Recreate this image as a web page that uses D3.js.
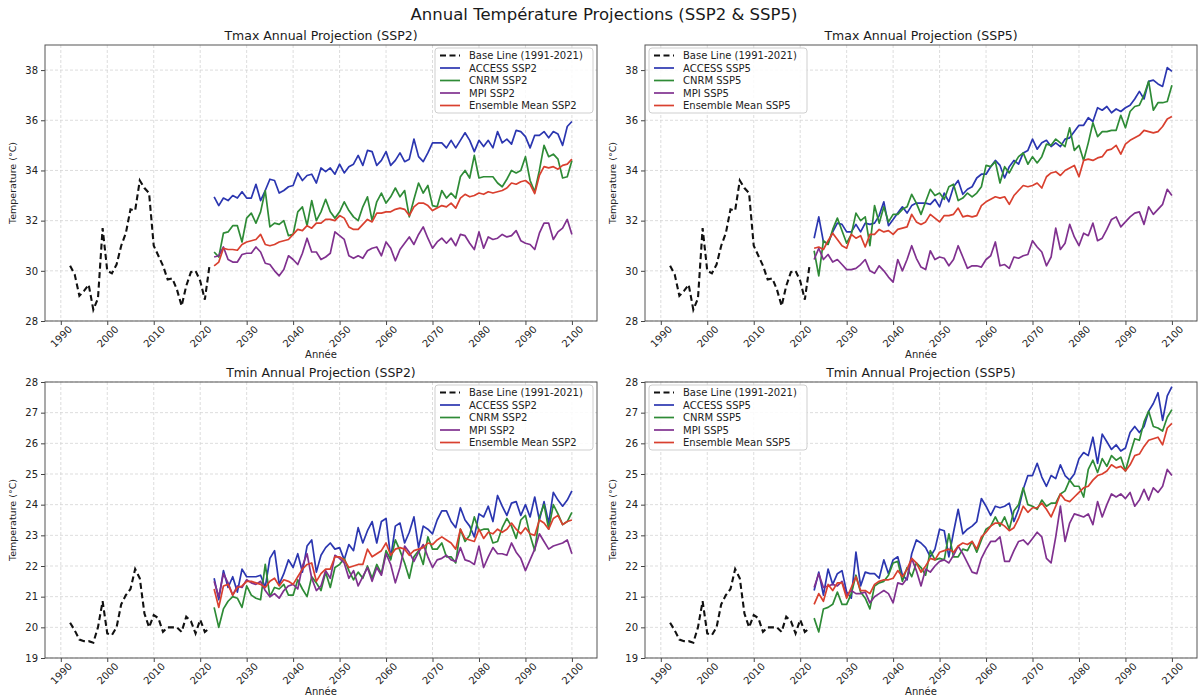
<!DOCTYPE html>
<html>
<head>
<meta charset="utf-8">
<script src="https://cdn.jsdelivr.net/npm/d3@7"></script>
<style>
  html, body { margin: 0; padding: 0; background: #fff; }
  svg { display: block; font-family: "DejaVu Sans", sans-serif; }
</style>
</head>
<body>
<svg id="chart" width="1198" height="698"></svg>
<script>
// ---- Years ----
const baseYears = d3.range(1992, 2023);   // observed baseline period
const projYears = d3.range(2023, 2101);   // projection period

// ---- Observed baseline (°C) ----
const tmaxBaseline = [
  30.2, 29.85, 29.0, 29.2, 29.45, 28.45, 28.9, 31.7, 30.0, 29.9,
  30.25, 31.0, 31.5, 32.45, 32.4, 33.6, 33.3, 33.1, 31.0, 30.6,
  30.2, 29.65, 29.7, 29.25, 28.6, 29.4, 29.95, 30.0, 29.6, 28.85, 30.2
];
const tminBaseline = [
  20.15, 19.9, 19.6, 19.55, 19.55, 19.5, 20.0, 20.85, 19.8, 19.75,
  20.0, 20.75, 21.05, 21.25, 21.9, 21.6, 20.45, 20.0, 20.4, 20.3,
  19.85, 20.0, 20.0, 20.0, 19.85, 20.35, 20.2, 19.8, 20.25, 19.85, 19.97
];

// ---- Tmax, SSP2 ----
const tmaxAccessSsp2 = [
  32.95, 32.6, 32.9, 32.8, 33.0, 32.9, 33.15, 32.9, 32.9, 33.45,
  32.8, 33.2, 33.65, 33.6, 33.1, 33.2, 33.35, 33.4, 33.9, 33.6,
  33.8, 33.85, 33.5, 34.1, 33.95, 34.1, 33.85, 34.25, 33.9, 34.15,
  34.25, 34.6, 34.2, 34.8, 34.75, 34.2, 34.4, 34.75, 34.2, 34.4,
  34.7, 34.35, 34.45, 35.25, 34.55, 34.35, 34.7, 35.1, 35.1, 35.1,
  34.9, 35.2, 34.9, 35.2, 35.5, 35.2, 34.75, 35.2, 34.95, 35.2,
  34.9, 35.55, 35.1, 35.25, 35.05, 35.6, 35.55, 35.35, 34.9, 35.4,
  35.4, 35.55, 35.3, 35.55, 35.45, 35.0, 35.75, 35.95
];
const tmaxCnrmSsp2 = [
  30.75, 30.55, 31.5, 31.55, 31.8, 31.8, 31.15, 32.1, 32.3, 31.9,
  32.35, 33.2, 31.75, 31.9, 31.85, 32.0, 31.4, 31.45, 32.35, 32.55,
  31.8, 32.8, 32.0, 32.35, 32.85, 32.35, 32.1, 32.35, 32.75, 32.4,
  32.15, 32.0, 32.55, 32.95, 32.0, 32.75, 33.1, 32.7, 32.95, 33.3,
  32.95, 33.2, 32.15, 32.85, 33.5, 33.1, 33.4, 32.6, 32.55, 33.2,
  32.9, 33.1, 32.9, 33.75, 34.0, 33.7, 34.6, 33.7, 33.75, 33.75,
  33.75, 33.5, 33.35, 33.65, 34.0, 33.9, 34.0, 34.55, 33.6, 33.15,
  34.0, 35.0, 34.55, 34.65, 34.45, 33.7, 33.75, 34.4
];
const tmaxMpiSsp2 = [
  30.55, 30.6, 30.95, 30.45, 30.35, 30.35, 30.65, 30.7, 30.7, 30.95,
  30.75, 30.3, 30.25, 30.0, 29.8, 30.05, 30.6, 30.45, 30.25, 30.7,
  31.3, 30.75, 30.75, 30.45, 30.55, 30.7, 31.55, 31.4, 31.25, 30.6,
  30.5, 30.6, 30.5, 30.8, 30.9, 30.95, 30.6, 31.15, 30.9, 30.4,
  30.85, 31.1, 31.35, 31.05, 31.45, 31.75, 31.3, 30.9, 31.15, 31.3,
  31.1, 31.3, 31.0, 31.45, 31.4, 31.1, 30.85, 31.55, 30.9, 31.35,
  31.25, 31.3, 31.45, 31.35, 31.4, 31.6, 31.2, 31.1, 31.05, 30.85,
  31.5, 31.9, 31.9, 31.25, 31.55, 31.7, 32.05, 31.45
];
const tmaxMeanSsp2 = [
  30.2, 30.35, 30.9, 30.85, 30.85, 30.82, 31.05, 31.15, 31.2, 31.25,
  31.45, 31.05, 31.0, 31.05, 31.15, 31.2, 31.25, 31.45, 31.65, 31.6,
  31.8, 31.7, 31.9, 31.9, 32.05, 32.05, 32.0, 32.2, 32.1, 31.75,
  31.65, 31.65, 31.85, 32.05, 31.95, 32.3, 32.3, 32.35, 32.35, 32.45,
  32.5, 32.45, 32.2, 32.55, 32.7, 32.7, 32.6, 32.4, 32.5, 32.6,
  32.55, 32.7, 32.5, 32.9, 33.05, 32.95, 33.0, 33.1, 33.05, 33.15,
  33.1, 33.15, 33.2, 33.3, 33.5, 33.45, 33.55, 33.6, 33.45, 33.08,
  33.8, 34.15, 34.1, 34.15, 34.05, 34.2, 34.25, 34.45
];

// ---- Tmax, SSP5 ----
const tmaxAccessSsp5 = [
  31.3, 32.15, 31.15, 31.1, 31.55, 31.9, 31.85, 31.55, 31.55, 31.85,
  31.55, 31.9, 31.85, 31.9, 32.2, 32.75, 31.8, 32.05, 32.3, 32.55,
  32.3, 32.6, 32.7, 32.7, 32.7, 32.65, 32.85, 32.55, 33.1, 32.75,
  33.35, 33.6, 33.05, 33.25, 33.35, 33.7, 33.85, 33.85, 34.15, 34.4,
  34.2, 33.7, 34.15, 34.4, 34.25, 34.7, 34.8, 35.25, 34.85, 35.1,
  35.2, 34.95, 35.1, 34.95, 35.25, 35.3, 35.55, 35.8, 35.8, 36.1,
  35.95, 36.5, 36.4, 36.55, 36.3, 36.45, 36.35, 36.5, 36.6, 36.85,
  37.15, 36.85, 37.55, 37.6, 37.45, 37.35, 38.1, 37.95
];
const tmaxCnrmSsp5 = [
  30.8, 29.8, 31.2, 31.05, 31.65, 32.1, 31.6, 31.1, 31.45, 32.3,
  32.0, 32.15, 31.0, 32.6, 31.9, 32.55, 31.95, 32.25, 32.25, 32.45,
  32.55, 33.05, 32.7, 32.25, 32.75, 33.25, 33.0, 33.1, 32.85, 33.35,
  33.45, 32.8, 32.9, 33.1, 32.95, 33.1, 33.35, 34.2, 34.15, 34.35,
  33.5, 34.15, 33.9, 34.25, 34.55, 34.7, 34.25, 34.55, 34.3, 34.55,
  35.05, 35.0, 35.25, 35.1, 34.95, 35.7, 34.8, 35.0, 34.4, 35.1,
  35.9, 35.35, 35.55, 35.55, 35.6, 35.6, 36.2, 35.7, 36.35, 36.55,
  36.6, 37.0, 37.55, 36.4, 36.7, 36.7, 36.75, 37.4
];
const tmaxMpiSsp5 = [
  30.45, 30.9, 30.45, 30.65, 30.35, 30.45, 30.25, 30.05, 30.05, 30.1,
  30.25, 30.45, 30.0, 29.9, 30.2, 30.0, 29.75, 29.55, 30.45, 30.0,
  30.45, 31.0, 30.5, 30.15, 30.05, 30.8, 30.45, 30.55, 30.5, 30.2,
  30.45, 31.0, 30.55, 30.1, 30.2, 30.2, 30.15, 30.45, 30.6, 31.15,
  30.2, 30.25, 30.1, 30.55, 30.5, 30.6, 30.65, 31.2, 30.95, 30.75,
  30.2, 30.55, 31.7, 30.85, 31.1, 31.85, 31.35, 31.0, 31.5, 31.4,
  31.9, 31.2, 31.3, 31.65, 32.05, 32.15, 31.75, 31.95, 32.15, 32.3,
  32.35, 31.85, 32.55, 32.25, 32.45, 32.65, 33.25, 33.0
];
const tmaxMeanSsp5 = [
  30.9, 30.95, 30.85, 31.2, 31.5, 31.25, 31.0, 30.9, 31.45, 31.3,
  31.4, 30.95, 31.45, 31.45, 31.65, 31.55, 31.6, 31.45, 31.65, 31.7,
  31.75, 32.25, 31.95, 31.85, 31.95, 32.25, 32.1, 31.95, 32.2, 32.2,
  32.25, 32.5, 32.15, 32.2, 32.15, 32.2, 32.6, 32.75, 32.85, 32.95,
  32.9, 32.95, 32.65, 33.0, 33.2, 33.4, 33.35, 33.4, 33.5, 33.3,
  33.75, 33.9, 33.95, 33.8, 34.0, 34.1, 34.2, 33.75, 34.4, 34.45,
  34.4, 34.5, 34.55, 34.8, 34.85, 35.0, 34.65, 35.05, 35.2, 35.3,
  35.4, 35.6, 35.55, 35.5, 35.55, 35.75, 36.05, 36.15
];

// ---- Tmin, SSP2 ----
const tminAccessSsp2 = [
  21.6, 20.9, 21.85, 21.3, 21.65, 21.15, 21.9, 21.65, 21.65, 21.65,
  21.7, 21.3, 22.25, 22.5, 21.4, 21.75, 22.2, 21.95, 22.4, 21.8,
  22.65, 22.85, 21.8, 22.35, 22.6, 22.75, 22.55, 22.6, 22.2, 22.7,
  22.5, 23.25, 22.75, 23.15, 23.45, 22.75, 23.45, 23.55, 22.25, 23.3,
  23.4, 22.75, 23.1, 23.6, 22.6, 23.3, 23.2, 23.05, 23.5, 23.8,
  23.8, 23.45, 23.25, 23.9, 23.5, 23.3, 22.95, 23.7, 23.6, 23.95,
  23.45, 24.3, 23.95, 23.65, 24.05, 24.1, 23.65, 24.0, 23.6, 24.25,
  23.5, 24.1, 23.4, 24.4, 24.15, 23.95, 24.15, 24.45
];
const tminCnrmSsp2 = [
  20.65, 20.0, 20.6, 20.85, 21.0, 20.95, 20.65, 21.35, 21.05, 20.95,
  20.9, 22.05, 21.0, 21.3, 21.25, 21.4, 21.05, 21.05, 21.55, 21.25,
  21.0, 21.65, 21.45, 21.2, 21.8, 21.3, 21.95, 22.05, 22.25, 21.85,
  21.55, 21.8, 21.6, 22.0, 21.6, 22.05, 21.75, 22.5, 22.2, 22.85,
  22.5, 22.1, 21.6, 22.3, 22.5, 22.05, 22.95, 22.55, 22.55, 22.75,
  22.3, 22.3, 22.1, 23.2, 22.8, 23.0, 23.6, 23.15, 23.2, 23.2,
  22.75, 22.8, 23.25, 23.55, 23.3, 22.9, 23.5, 23.65, 23.0, 22.5,
  23.6, 24.0, 23.2, 24.0, 23.7, 23.35, 23.45, 23.75
];
const tminMpiSsp2 = [
  21.5, 21.0, 21.75, 21.45, 21.05, 21.35, 21.3, 21.55, 21.45, 21.4,
  21.5, 21.2, 21.0, 21.1, 20.95, 21.2, 21.35, 21.4, 21.25, 22.0,
  22.4, 21.6, 21.2, 21.35, 21.85, 21.6, 22.35, 22.25, 22.1, 21.6,
  21.85, 21.35, 21.65, 21.95, 21.5, 21.95, 21.7, 22.4, 22.05, 21.45,
  21.95, 22.65, 22.45, 22.15, 22.45, 22.7, 22.3, 21.95, 22.2, 22.25,
  22.35, 22.2, 22.15, 22.6, 22.2, 22.15, 22.05, 22.65, 21.95, 22.3,
  22.6, 22.4, 22.4, 22.35, 22.75, 22.45, 22.25, 21.85, 22.2, 22.55,
  23.05, 22.8, 22.55, 22.65, 22.7, 22.75, 22.85, 22.4
];
const tminMeanSsp2 = [
  21.25, 20.65, 21.35, 21.4, 21.05, 21.3, 21.35, 21.5, 21.5, 21.45,
  21.4, 21.3, 21.5, 21.6, 21.35, 21.55, 21.5, 21.4, 21.65, 21.9,
  22.05, 22.1, 21.5, 21.75, 21.9, 21.9, 22.3, 22.3, 22.2, 21.95,
  22.0, 22.05, 22.05, 22.55, 22.3, 22.4, 22.5, 22.75, 22.35, 22.55,
  22.6, 22.55, 22.35, 22.5, 22.55, 22.6, 22.75, 22.7, 22.85, 22.95,
  22.85, 22.75, 22.55, 23.2, 22.9, 22.85, 22.8, 23.2, 22.9, 23.1,
  23.05, 23.2, 23.1, 23.2, 23.4, 23.2, 23.05, 23.25, 23.05, 23.0,
  23.5, 23.4, 23.2, 23.55, 23.65, 23.35, 23.45, 23.5
];

// ---- Tmin, SSP5 ----
const tminAccessSsp5 = [
  21.2, 21.8, 21.05, 21.9, 21.4, 21.75, 21.85, 21.15, 20.95, 22.45,
  21.35, 21.8, 21.75, 21.75, 21.6, 22.2, 21.75, 22.2, 22.3, 21.7,
  21.55, 22.4, 22.85, 22.75, 22.6, 22.3, 22.55, 23.2, 23.15, 22.3,
  23.1, 23.85, 23.05, 23.2, 23.3, 23.45, 24.2, 23.95, 23.65, 23.95,
  23.9, 23.95, 24.05, 23.45, 23.85, 24.5, 24.95, 24.95, 25.35, 24.9,
  24.6, 24.95, 24.85, 25.3, 24.95, 24.8, 25.0, 25.5, 25.7, 25.6,
  26.2, 25.35, 26.3, 26.05, 25.8, 25.95, 25.75, 25.85, 26.35, 26.55,
  26.35, 26.55, 27.05, 27.3, 27.65, 26.75, 27.55, 27.85
];
const tminCnrmSsp5 = [
  20.3, 19.85, 20.6, 20.65, 20.75, 21.15, 20.75, 20.75, 21.1, 21.7,
  21.15, 20.95, 20.6, 21.35, 21.45, 21.5, 21.7, 22.1, 22.15, 21.5,
  21.95, 21.65, 22.1, 21.95, 21.7, 22.5, 22.2, 22.25, 22.2, 23.05,
  22.3, 22.3, 22.55, 22.5, 22.8, 22.45, 22.85, 23.2, 23.3, 23.6,
  23.3, 23.6, 23.2, 23.8, 24.0, 24.55, 24.0, 23.95, 23.85, 24.15,
  23.95, 24.05, 24.05, 24.35, 24.45, 24.8, 24.6, 24.6, 24.25, 25.15,
  25.45, 25.05, 25.5, 25.25, 25.6, 25.45, 25.55, 25.1, 25.65, 26.15,
  26.1, 26.7, 27.05, 26.55, 26.5, 26.4, 26.85, 27.1
];
const tminMpiSsp5 = [
  21.3, 21.75, 21.3, 21.35, 21.4, 21.35, 21.5, 21.05, 21.2, 21.1,
  21.1, 21.15, 20.8, 21.0, 21.1, 21.2, 21.1, 20.8, 21.45, 21.4,
  21.6, 22.25, 21.85, 21.35, 21.9, 21.8, 22.0, 22.15, 22.2, 22.1,
  22.35, 22.65, 22.4, 22.1, 21.8, 21.75, 22.25, 22.55, 22.8, 22.8,
  22.95, 22.15, 22.15, 22.5, 22.8, 22.85, 22.7, 22.9, 23.1, 22.95,
  22.25, 22.1, 22.95, 23.95, 22.8, 23.4, 23.7, 23.65, 23.6, 23.7,
  23.35, 24.1, 23.6, 24.0, 24.35, 24.25, 24.35, 24.2, 24.4, 23.95,
  24.15, 24.5, 24.15, 24.55, 24.4, 24.6, 25.15, 24.95
];
const tminMeanSsp5 = [
  20.75, 21.1, 20.85, 21.4, 21.2, 21.45, 21.45, 20.95, 21.3, 21.65,
  21.2, 21.2, 21.1, 21.4, 21.5, 21.55, 21.55, 21.6, 21.85, 21.65,
  21.9, 22.25, 22.1, 21.8, 22.0, 22.25, 22.2, 22.45, 22.5, 22.55,
  22.45, 22.65, 22.75, 22.7, 22.8, 22.55, 22.95, 23.1, 23.3, 23.4,
  23.4, 23.3, 23.15, 23.25, 23.55, 23.95, 23.75, 23.9, 23.9, 24.05,
  23.85, 23.6, 23.95, 24.35, 24.15, 24.1, 24.25, 24.4, 24.55, 24.6,
  24.8, 24.95, 25.0, 25.1, 25.3, 25.2, 25.25, 25.1, 25.3, 25.6,
  25.65, 25.9, 26.1, 26.15, 26.2, 25.95, 26.5, 26.65
];

// ---- Labels, ticks ----
const modelNames = ["ACCESS", "CNRM", "MPI", "Ensemble Mean"];
const modelColors = ["#2b36b0", "#2e8b36", "#80318f", "#d9402f"];
const baselineLabel = "Base Line (1991-2021)";
const xTickYears = [1990, 2000, 2010, 2020, 2030, 2040, 2050, 2060, 2070, 2080, 2090, 2100];
const tmaxTicks = [28, 30, 32, 34, 36, 38];
const tminTicks = [19, 20, 21, 22, 23, 24, 25, 26, 27, 28];
const mainTitle = "Annual Température Projections (SSP2 & SSP5)";
const xLabel = "Année";
const yLabel = "Temperature (°C)";

// ---- Layout ----
const plotW = 552, plotH = 276;
const panels = [
  { left: 45,  top: 45,  title: "Tmax Annual Projection (SSP2)", scenario: "SSP2", base: tmaxBaseline,
    series: [tmaxAccessSsp2, tmaxCnrmSsp2, tmaxMpiSsp2, tmaxMeanSsp2], yDomain: [28, 39], yTicks: tmaxTicks, legendRight: true },
  { left: 645, top: 45,  title: "Tmax Annual Projection (SSP5)", scenario: "SSP5", base: tmaxBaseline,
    series: [tmaxAccessSsp5, tmaxCnrmSsp5, tmaxMpiSsp5, tmaxMeanSsp5], yDomain: [28, 39], yTicks: tmaxTicks, legendRight: false },
  { left: 45,  top: 382, title: "Tmin Annual Projection (SSP2)", scenario: "SSP2", base: tminBaseline,
    series: [tminAccessSsp2, tminCnrmSsp2, tminMpiSsp2, tminMeanSsp2], yDomain: [19, 28], yTicks: tminTicks, legendRight: true },
  { left: 645, top: 382, title: "Tmin Annual Projection (SSP5)", scenario: "SSP5", base: tminBaseline,
    series: [tminAccessSsp5, tminCnrmSsp5, tminMpiSsp5, tminMeanSsp5], yDomain: [19, 28], yTicks: tminTicks, legendRight: false }
];

const svg = d3.select("#chart");

svg.append("text")
  .attr("x", 604).attr("y", 20)
  .attr("text-anchor", "middle")
  .attr("font-size", 16.5)
  .attr("fill", "#1a1a1a")
  .text(mainTitle);

panels.forEach(p => {
  const g = svg.append("g").attr("transform", `translate(${p.left},${p.top})`);
  const x = d3.scaleLinear().domain([1986.6, 2105.4]).range([0, plotW]);
  const y = d3.scaleLinear().domain(p.yDomain).range([plotH, 0]);

  // grid
  const grid = g.append("g").attr("stroke", "#d4d4d4").attr("stroke-width", 0.8).attr("stroke-dasharray", "3,2");
  grid.selectAll("line.vx").data(xTickYears).join("line")
    .attr("x1", d => x(d)).attr("x2", d => x(d)).attr("y1", 0).attr("y2", plotH);
  grid.selectAll("line.hy").data(p.yTicks).join("line")
    .attr("x1", 0).attr("x2", plotW).attr("y1", d => y(d)).attr("y2", d => y(d));

  // axes
  const yAxis = g.append("g")
    .call(d3.axisLeft(y).tickValues(p.yTicks).tickFormat(d3.format("d")).tickSize(4).tickPadding(3));
  yAxis.select(".domain").remove();
  yAxis.selectAll("line").attr("stroke", "#444");
  yAxis.selectAll("text").attr("font-size", 10).attr("fill", "#222").attr("font-family", "DejaVu Sans");

  const xAxis = g.append("g").attr("transform", `translate(0,${plotH})`)
    .call(d3.axisBottom(x).tickValues(xTickYears).tickFormat(d3.format("d")).tickSize(4));
  xAxis.select(".domain").remove();
  xAxis.selectAll("line").attr("stroke", "#444");
  xAxis.selectAll("text")
    .attr("font-size", 10).attr("fill", "#222").attr("font-family", "DejaVu Sans")
    .attr("y", 0).attr("dy", 0)
    .attr("text-anchor", "middle").attr("dominant-baseline", "central")
    .attr("transform", "translate(0,15.5) rotate(-45)");

  // lines
  const line = d3.line().x(d => x(d[0])).y(d => y(d[1]));
  const lines = g.append("g");
  p.series.forEach((s, i) => {
    lines.append("path")
      .datum(projYears.map((yr, k) => [yr, s[k]]))
      .attr("fill", "none").attr("stroke", modelColors[i])
      .attr("stroke-width", 1.7).attr("stroke-linejoin", "round")
      .attr("d", line);
  });
  lines.append("path")
    .datum(baseYears.map((yr, k) => [yr, p.base[k]]))
    .attr("fill", "none").attr("stroke", "#111")
    .attr("stroke-width", 2.1).attr("stroke-dasharray", "6,3.5")
    .attr("d", line);

  // frame
  g.append("rect").attr("width", plotW).attr("height", plotH)
    .attr("fill", "none").attr("stroke", "#555").attr("stroke-width", 1);

  // titles
  g.append("text").attr("x", plotW / 2).attr("y", -5)
    .attr("text-anchor", "middle").attr("font-size", 12.5).attr("fill", "#1a1a1a")
    .text(p.title);
  g.append("text").attr("x", plotW / 2).attr("y", plotH + 37)
    .attr("text-anchor", "middle").attr("font-size", 10).attr("fill", "#222")
    .text(xLabel);
  g.append("text")
    .attr("transform", `translate(${-29},${plotH / 2}) rotate(-90)`)
    .attr("text-anchor", "middle").attr("font-size", 9.5).attr("fill", "#222")
    .text(yLabel);

  // legend
  const lw = 158, lh = 65;
  const lx = p.legendRight ? plotW - 4 - lw : 4;
  const lg = g.append("g").attr("transform", `translate(${lx},3)`);
  lg.append("rect").attr("width", lw).attr("height", lh).attr("rx", 3)
    .attr("fill", "#fff").attr("fill-opacity", 0.85).attr("stroke", "#cfcfcf");
  const entries = [{ label: baselineLabel, color: "#111", dash: true }]
    .concat(modelNames.map((m, i) => ({ label: `${m} ${p.scenario}`, color: modelColors[i], dash: false })));
  entries.forEach((e, i) => {
    const cy = 7.5 + i * 12.5;
    lg.append("line").attr("x1", 5).attr("x2", 25).attr("y1", cy).attr("y2", cy)
      .attr("stroke", e.color).attr("stroke-width", e.dash ? 2.1 : 1.7)
      .attr("stroke-dasharray", e.dash ? "6,3.5" : null);
    lg.append("text").attr("x", 34).attr("y", cy).attr("dy", "0.35em")
      .attr("font-size", 10).attr("fill", "#222").text(e.label);
  });
});
</script>
</body>
</html>
